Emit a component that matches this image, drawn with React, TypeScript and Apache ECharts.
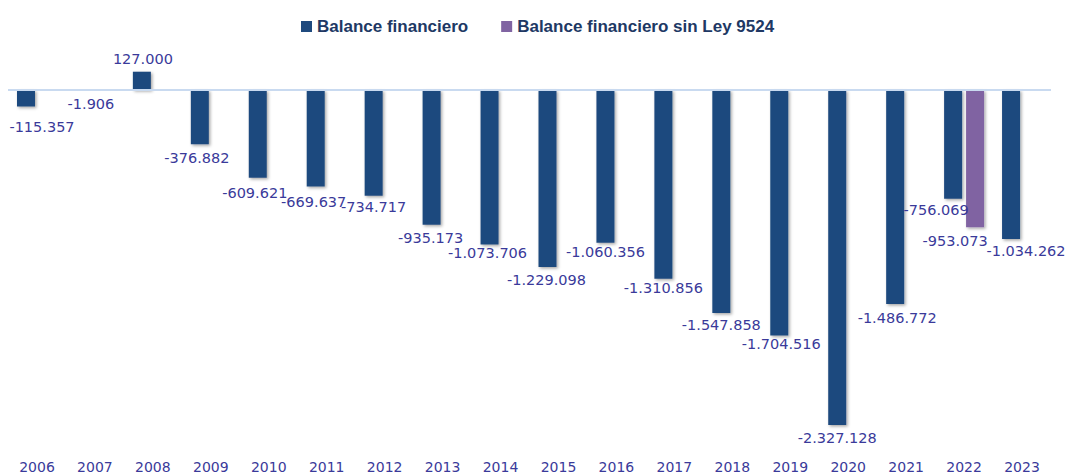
import React, { useEffect, useRef } from "react";
import * as echarts from "echarts";

const YEARS = ["2006","2007","2008","2009","2010","2011","2012","2013","2014","2015","2016","2017","2018","2019","2020","2021","2022","2023"];
const BALANCE = [-115357, -1906, 127000, -376882, -609621, -669637, -734717, -935173, -1073706, -1229098, -1060356, -1310856, -1547858, -1704516, -2327128, -1486772, -756069, -1034262];
const BALANCE_SIN_LEY = [null, null, null, null, null, null, null, null, null, null, null, null, null, null, null, null, -953073, null];
const SERIES_NAMES = ["Balance financiero", "Balance financiero sin Ley 9524"];

// label nudges (px) relative to default placement
const BALANCE_LABEL_NUDGE: [number, number][] = [
  [16, 8], [7, 1], [1, 0], [-3, 1], [-3, 3], [-2, 3], [0, -1], [-1, 1], [-2, -4], [-1, 1],
  [0, -3], [0, -3], [0, 0], [2, -4], [0, 0], [2, 1], [-17, -1], [15, 0],
];
const SIN_LEY_LABEL_NUDGE: [number, number] = [-20, 1];

const fmt = (v: number) =>
  (v < 0 ? "-" : "") + Math.abs(v).toString().replace(/\B(?=(\d{3})+(?!\d))/g, ".");

export default function App() {
  const ref = useRef<HTMLDivElement>(null);
  useEffect(() => {
    if (!ref.current) return;
    const chart = echarts.init(ref.current, undefined, { renderer: "svg" });
    const labelColor = "#3a3a9a";
    const labelBase = {
      show: true,
      color: labelColor,
      fontFamily: "DejaVu Sans",
      fontSize: 14.5,
      distance: 5,
      formatter: (p: any) => fmt(p.value),
    };
    const shadow = {
      shadowBlur: 3,
      shadowColor: "rgba(0,0,0,0.35)",
      shadowOffsetX: 1.5,
      shadowOffsetY: 1.5,
    };
    chart.setOption({
      animation: false,
      legend: {
        left: 296,
        top: 13,
        icon: "rect",
        itemWidth: 11,
        itemHeight: 11,
        itemGap: 33,
        data: SERIES_NAMES,
        textStyle: {
          fontFamily: "Liberation Sans, Arial, sans-serif",
          fontWeight: "bold",
          fontSize: 17,
          color: "#203864",
        },
      },
      grid: { left: 8, right: 15, top: 61.2, height: 388.8, containLabel: false },
      xAxis: {
        type: "category",
        data: YEARS,
        axisLine: { show: false },
        axisTick: { show: false },
        axisLabel: {
          color: labelColor,
          fontFamily: "DejaVu Sans",
          fontSize: 14,
          margin: 10,
        },
      },
      yAxis: {
        type: "value",
        min: -2500000,
        max: 200000,
        show: false,
        splitLine: { show: false },
      },
      series: [
        {
          name: SERIES_NAMES[0],
          type: "bar",
          barWidth: 18,
          barGap: "22%",
          itemStyle: { color: "#1f4a7e", ...shadow },
          data: BALANCE.map((v, i) => ({
            value: v,
            label: {
              ...labelBase,
              position: v >= 0 ? "top" : "bottom",
              offset: BALANCE_LABEL_NUDGE[i],
            },
          })),
          markLine: {
            silent: true,
            symbol: "none",
            label: { show: false },
            lineStyle: { color: "#c9daf0", width: 2, type: "solid" },
            data: [{ yAxis: 0 }],
          },
        },
        {
          name: SERIES_NAMES[1],
          type: "bar",
          barWidth: 18,
          barGap: "22%",
          itemStyle: { color: "#8064a2", ...shadow },
          data: BALANCE_SIN_LEY.map((v) =>
            v === null
              ? null
              : {
                  value: v,
                  label: {
                    ...labelBase,
                    position: v >= 0 ? "top" : "bottom",
                    offset: SIN_LEY_LABEL_NUDGE,
                  },
                }
          ),
        },
      ],
    });
    return () => chart.dispose();
  }, []);
  return (
    <div
      ref={ref}
      style={{ position: "absolute", left: 0, top: 0, width: 1066, height: 474, background: "#fff" }}
    />
  );
}
